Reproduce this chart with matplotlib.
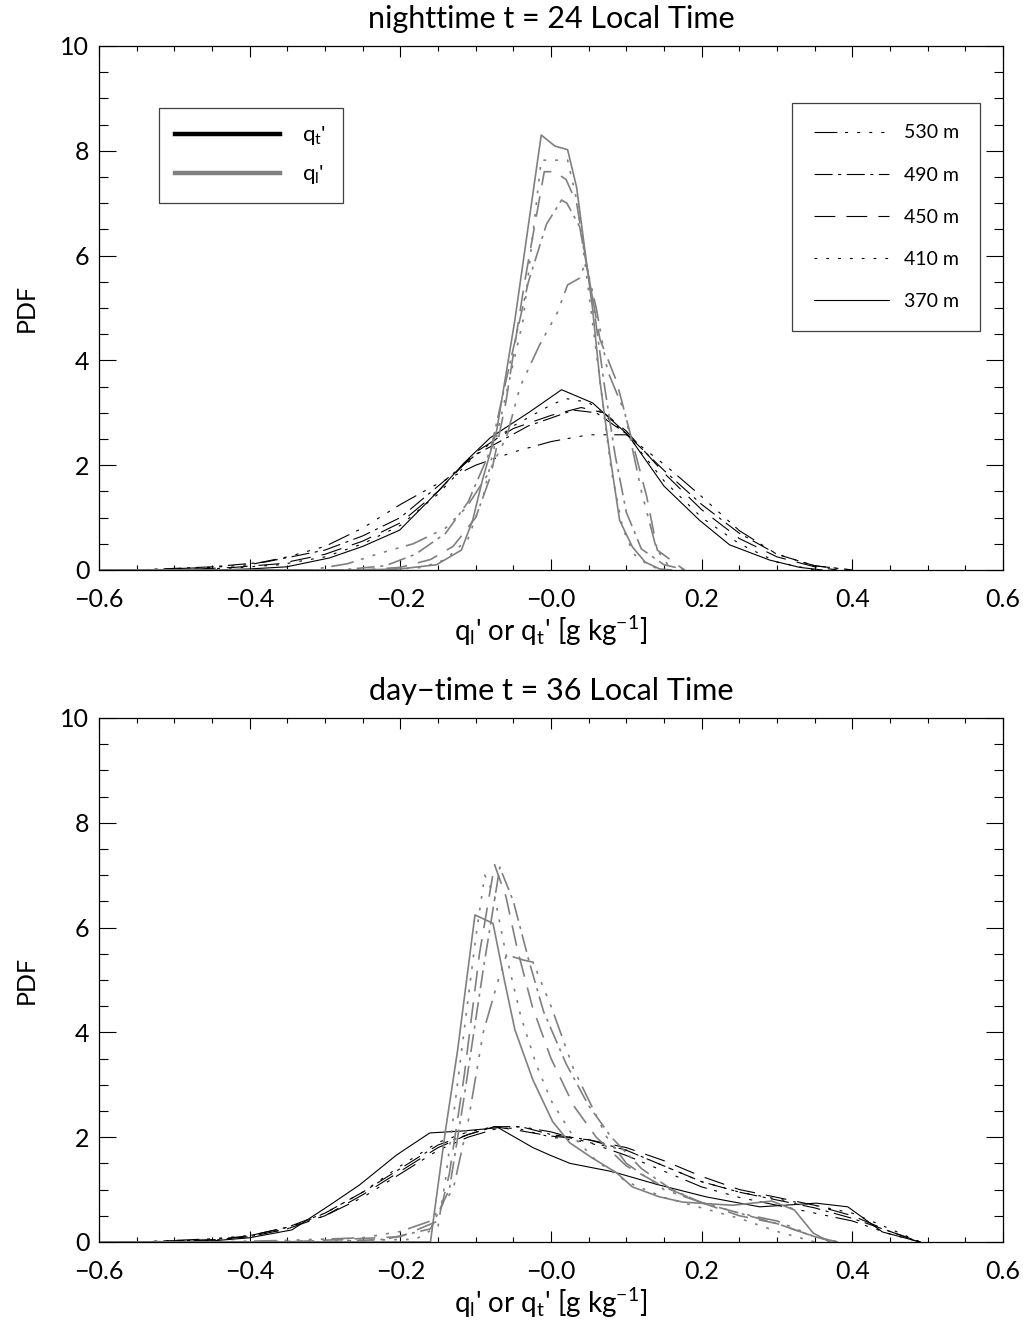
import matplotlib
matplotlib.use("Agg")
import matplotlib.pyplot as plt
from matplotlib.lines import Line2D
from matplotlib.ticker import MultipleLocator, FixedLocator, FixedFormatter

plt.rcParams['lines.scale_dashes'] = False
plt.rcParams['font.family'] = ['Lato', 'DejaVu Sans']
plt.rcParams['mathtext.fontset'] = 'custom'
plt.rcParams['mathtext.rm'] = 'Lato'
plt.rcParams['mathtext.it'] = 'Lato'

# ---------------------------------------------------------------- labels
heights = ['530 m', '490 m', '450 m', '410 m', '370 m']
xtick_vals = [-0.6, -0.4, -0.2, 0.0, 0.2, 0.4, 0.6]
xtick_labels = ['\u22120.6', '\u22120.4', '\u22120.2', '\u22120.0', '0.2', '0.4', '0.6']
ytick_vals = [0, 2, 4, 6, 8, 10]
ytick_labels = ['0', '2', '4', '6', '8', '10']
titles = ['nighttime t = 24 Local Time', 'day\u2212time t = 36 Local Time']

# ---------------------------------------------------------------- nighttime, q_t'
n_qt_370_x = [-0.6, -0.45, -0.4, -0.351, -0.294, -0.25, -0.201, -0.148, -0.115, -0.081, -0.028, 0.014, 0.055, 0.102, 0.15, 0.197, 0.237, 0.29, 0.33, 0.36]
n_qt_370_y = [0, 0, 0.02, 0.06, 0.23, 0.45, 0.76, 1.53, 2.05, 2.52, 3.02, 3.44, 3.19, 2.58, 1.6, 0.95, 0.48, 0.19, 0.05, 0]
n_qt_410_x = [-0.6, -0.5, -0.42, -0.36, -0.3, -0.25, -0.2, -0.15, -0.1, -0.05, 0.0, 0.02, 0.05, 0.1, 0.15, 0.2, 0.25, 0.3, 0.35]
n_qt_410_y = [0, 0, 0.04, 0.1, 0.25, 0.5, 0.85, 1.45, 2.2, 2.75, 3.15, 3.27, 3.2, 2.6, 1.7, 1.0, 0.5, 0.15, 0]
n_qt_450_x = [-0.6, -0.5, -0.42, -0.36, -0.3, -0.25, -0.2, -0.15, -0.1, -0.05, 0.0, 0.04, 0.07, 0.1, 0.15, 0.2, 0.25, 0.3, 0.35, 0.38]
n_qt_450_y = [0, 0, 0.05, 0.12, 0.3, 0.55, 0.9, 1.5, 2.25, 2.7, 2.95, 3.1, 3.0, 2.65, 1.85, 1.15, 0.6, 0.25, 0.06, 0]
n_qt_490_x = [-0.6, -0.55, -0.45, -0.38, -0.3, -0.25, -0.2, -0.15, -0.1, -0.03, 0.03, 0.06, 0.1, 0.15, 0.2, 0.25, 0.3, 0.35, 0.4]
n_qt_490_y = [0, 0, 0.06, 0.15, 0.38, 0.65, 1.0, 1.6, 2.2, 2.75, 3.05, 3.0, 2.6, 1.9, 1.25, 0.7, 0.3, 0.08, 0]
n_qt_530_x = [-0.6, -0.55, -0.45, -0.4, -0.35, -0.3, -0.25, -0.2, -0.15, -0.1, -0.05, 0.0, 0.05, 0.1, 0.154, 0.2, 0.25, 0.3, 0.35, 0.4]
n_qt_530_y = [0, 0, 0.05, 0.1, 0.25, 0.45, 0.8, 1.25, 1.65, 2.0, 2.25, 2.45, 2.58, 2.58, 1.97, 1.4, 0.75, 0.3, 0.08, 0]

# ---------------------------------------------------------------- nighttime, q_l'
n_ql_370_x = [-0.6, -0.25, -0.2, -0.152, -0.119, -0.104, -0.091, -0.072, -0.048, -0.013, 0.005, 0.022, 0.034, 0.055, 0.065, 0.078, 0.091, 0.108, 0.125, 0.144, 0.16]
n_ql_370_y = [0, 0, 0.02, 0.1, 0.38, 0.95, 1.72, 2.67, 4.77, 8.30, 8.09, 8.02, 7.3, 5.0, 3.6, 2.2, 0.95, 0.44, 0.15, 0.02, 0]
n_ql_410_x = [-0.6, -0.22, -0.17, -0.14, -0.11, -0.09, -0.07, -0.037, -0.013, 0.005, 0.022, 0.035, 0.05, 0.065, 0.08, 0.095, 0.11, 0.13, 0.15]
n_ql_410_y = [0, 0, 0.05, 0.2, 0.6, 1.4, 2.7, 4.77, 7.82, 7.82, 7.82, 7.0, 5.3, 3.6, 1.9, 0.8, 0.3, 0.08, 0]
n_ql_450_x = [-0.6, -0.25, -0.2, -0.16, -0.13, -0.1, -0.08, -0.06, -0.035, -0.009, 0.005, 0.02, 0.034, 0.05, 0.065, 0.087, 0.107, 0.127, 0.141, 0.177]
n_ql_450_y = [0, 0, 0.05, 0.2, 0.45, 1.0, 1.8, 3.2, 5.5, 7.6, 7.6, 7.45, 7.0, 5.6, 4.4, 3.6, 2.5, 1.4, 0.38, 0.0]
n_ql_490_x = [-0.6, -0.28, -0.22, -0.18, -0.14, -0.11, -0.08, -0.06, -0.03, -0.006, 0.014, 0.021, 0.038, 0.055, 0.07, 0.085, 0.1, 0.12, 0.15, 0.18]
n_ql_490_y = [0, 0, 0.08, 0.3, 0.7, 1.3, 2.3, 3.6, 5.5, 6.6, 7.06, 7.0, 6.55, 5.2, 3.6, 2.2, 1.1, 0.4, 0.1, 0]
n_ql_530_x = [-0.6, -0.32, -0.27, -0.227, -0.183, -0.14, -0.112, -0.085, -0.059, -0.041, -0.015, 0.008, 0.022, 0.038, 0.046, 0.06, 0.075, 0.098, 0.12, 0.14, 0.16]
n_ql_530_y = [0, 0, 0.12, 0.32, 0.5, 0.8, 1.2, 1.8, 2.54, 3.5, 4.3, 4.9, 5.44, 5.57, 5.88, 5.0, 3.8, 3.0, 1.5, 0.4, 0]

# ---------------------------------------------------------------- day-time, q_t'
d_qt_x = [-0.6, -0.55, -0.45, -0.4, -0.35, -0.3, -0.25, -0.2, -0.15, -0.11, -0.075, -0.04, 0.0, 0.05, 0.1, 0.15, 0.2, 0.25, 0.3, 0.35, 0.4, 0.45, 0.49]
d_qt_410_y = [0, 0, 0.03, 0.1, 0.25, 0.55, 0.95, 1.45, 1.9, 2.1, 2.2, 2.15, 2.0, 1.9, 1.75, 1.45, 1.15, 0.95, 0.82, 0.7, 0.55, 0.25, 0]
d_qt_450_y = [0, 0, 0.04, 0.1, 0.25, 0.5, 0.9, 1.35, 1.8, 2.05, 2.2, 2.12, 2.02, 1.95, 1.8, 1.55, 1.25, 1.0, 0.85, 0.7, 0.5, 0.2, 0]
d_qt_490_y = [0, 0, 0.04, 0.12, 0.28, 0.55, 0.95, 1.4, 1.85, 2.05, 2.2, 2.2, 2.05, 1.95, 1.75, 1.45, 1.15, 0.95, 0.8, 0.65, 0.45, 0.2, 0]
d_qt_530_y = [0, 0, 0.06, 0.12, 0.28, 0.5, 0.85, 1.3, 1.75, 2.0, 2.15, 2.2, 2.1, 1.9, 1.65, 1.35, 1.05, 0.85, 0.7, 0.55, 0.4, 0.15, 0]
d_qt_370_x = [-0.6, -0.55, -0.45, -0.4, -0.344, -0.294, -0.254, -0.205, -0.161, -0.115, -0.07, -0.024, -0.002, 0.025, 0.082, 0.14, 0.206, 0.277, 0.352, 0.394, 0.44, 0.49]
d_qt_370_y = [0, 0, 0.02, 0.08, 0.23, 0.7, 1.09, 1.66, 2.08, 2.12, 2.18, 1.8, 1.66, 1.5, 1.34, 1.1, 0.86, 0.67, 0.74, 0.67, 0.19, 0]

# ---------------------------------------------------------------- day-time, q_l'
d_ql_370_x = [-0.6, -0.16, -0.155, -0.14, -0.124, -0.101, -0.077, -0.062, -0.048, -0.024, 0.002, 0.025, 0.055, 0.087, 0.108, 0.144, 0.175, 0.241, 0.293, 0.323, 0.348, 0.37]
d_ql_370_y = [0, 0, 0.55, 2.14, 3.66, 6.24, 6.08, 5.0, 4.05, 3.09, 2.3, 1.89, 1.6, 1.32, 1.05, 0.86, 0.76, 0.7, 0.78, 0.61, 0.17, 0]
d_ql_410_x = [-0.6, -0.4, -0.18, -0.15, -0.14, -0.12, -0.1, -0.088, -0.075, -0.06, -0.04, -0.02, 0.0, 0.03, 0.06, 0.1, 0.15, 0.2, 0.25, 0.3, 0.35]
d_ql_410_y = [0, 0, 0.05, 0.3, 1.2, 3.5, 5.8, 7.0, 6.6, 5.5, 4.3, 3.4, 2.7, 2.0, 1.55, 1.15, 0.85, 0.65, 0.45, 0.2, 0]
d_ql_450_x = [-0.6, -0.35, -0.2, -0.15, -0.135, -0.115, -0.095, -0.075, -0.06, -0.045, -0.025, 0.0, 0.03, 0.06, 0.1, 0.15, 0.2, 0.25, 0.3, 0.35, 0.38]
d_ql_450_y = [0, 0, 0.1, 0.4, 1.3, 3.2, 5.5, 7.2, 6.6, 5.6, 4.5, 3.5, 2.6, 2.0, 1.45, 1.05, 0.75, 0.5, 0.35, 0.1, 0]
d_ql_490_x = [-0.6, -0.3, -0.22, -0.16, -0.135, -0.115, -0.09, -0.068, -0.05, -0.03, -0.01, 0.02, 0.05, 0.08, 0.12, 0.16, 0.2, 0.25, 0.3, 0.35, 0.38]
d_ql_490_y = [0, 0, 0.05, 0.25, 1.0, 2.8, 5.2, 7.15, 6.5, 5.4, 4.4, 3.4, 2.6, 2.0, 1.4, 1.0, 0.75, 0.55, 0.35, 0.1, 0]
d_ql_530_x = [-0.6, -0.45, -0.35, -0.25, -0.2, -0.16, -0.13, -0.11, -0.09, -0.07, -0.059, -0.037, -0.024, 0.0, 0.03, 0.074, 0.1, 0.15, 0.2, 0.25, 0.3, 0.35, 0.38]
d_ql_530_y = [0, 0, 0.03, 0.08, 0.2, 0.4, 1.0, 2.3, 4.0, 5.0, 5.48, 5.38, 5.34, 4.5, 3.3, 2.0, 1.5, 1.0, 0.75, 0.55, 0.4, 0.1, 0]

# ---------------------------------------------------------------- styles
DASHES = {
    '530 m': (0, (16.5, 5.5, 2.2, 6.5, 2.2, 6.5, 2.2, 6.5, 2.2, 5.5)),
    '490 m': (0, (13.0, 4.0, 2.2, 4.0)),
    '450 m': (0, (15.0, 8.0)),
    '410 m': (0, (2.0, 6.5)),
    '370 m': 'solid',
}
GRAY = '#808080'
LW_QT = 0.8
LW_QL = 1.2

panels = [
    {
        'qt': {'370 m': (n_qt_370_x, n_qt_370_y), '410 m': (n_qt_410_x, n_qt_410_y),
               '450 m': (n_qt_450_x, n_qt_450_y), '490 m': (n_qt_490_x, n_qt_490_y),
               '530 m': (n_qt_530_x, n_qt_530_y)},
        'ql': {'370 m': (n_ql_370_x, n_ql_370_y), '410 m': (n_ql_410_x, n_ql_410_y),
               '450 m': (n_ql_450_x, n_ql_450_y), '490 m': (n_ql_490_x, n_ql_490_y),
               '530 m': (n_ql_530_x, n_ql_530_y)},
    },
    {
        'qt': {'370 m': (d_qt_370_x, d_qt_370_y), '410 m': (d_qt_x, d_qt_410_y),
               '450 m': (d_qt_x, d_qt_450_y), '490 m': (d_qt_x, d_qt_490_y),
               '530 m': (d_qt_x, d_qt_530_y)},
        'ql': {'370 m': (d_ql_370_x, d_ql_370_y), '410 m': (d_ql_410_x, d_ql_410_y),
               '450 m': (d_ql_450_x, d_ql_450_y), '490 m': (d_ql_490_x, d_ql_490_y),
               '530 m': (d_ql_530_x, d_ql_530_y)},
    },
]

FS_TICK = 18
FS_TITLE = 22
FS_LABEL = 20
fig = plt.figure(figsize=(10.35, 13.28), dpi=100)
axes = [fig.add_axes([0.0957, 0.5708, 0.8734, 0.3946]),
        fig.add_axes([0.0957, 0.0648, 0.8734, 0.3946])]

for ax, panel, title in zip(axes, panels, titles):
    for h in heights[::-1]:
        x, y = panel['qt'][h]
        ax.plot(x, y, color='black', lw=LW_QT, linestyle=DASHES[h])
    for h in heights[::-1]:
        x, y = panel['ql'][h]
        ax.plot(x, y, color=GRAY, lw=LW_QL, linestyle=DASHES[h])

    ax.set_xlim(-0.6, 0.6)
    ax.set_ylim(0, 10)
    ax.xaxis.set_major_locator(FixedLocator(xtick_vals))
    ax.xaxis.set_major_formatter(FixedFormatter(xtick_labels))
    ax.xaxis.set_minor_locator(MultipleLocator(0.05))
    ax.yaxis.set_major_locator(FixedLocator(ytick_vals))
    ax.yaxis.set_major_formatter(FixedFormatter(ytick_labels))
    ax.yaxis.set_minor_locator(MultipleLocator(0.5))
    ax.tick_params(which='both', direction='in', top=True, right=True,
                   labelsize=FS_TICK, width=0.8)
    ax.tick_params(axis='x', which='both', pad=13)
    ax.tick_params(axis='y', which='both', pad=7)
    ax.tick_params(axis='x', which='major', length=8)
    ax.tick_params(axis='x', which='minor', length=3.6)
    ax.tick_params(axis='y', which='major', length=12.5)
    ax.tick_params(axis='y', which='minor', length=6.5)
    for sp in ax.spines.values():
        sp.set_linewidth(0.9)

    ax.set_title(title, fontsize=FS_TITLE, pad=13)
    ax.set_ylabel('PDF', fontsize=FS_TICK, labelpad=16)
    ax.set_xlabel(r"q$_{\rm l}$' or q$_{\rm t}$' [g kg$^{-1}$]", fontsize=FS_LABEL, labelpad=2)

# legends in the nighttime panel
ax0 = axes[0]
var_handles = [Line2D([], [], color='black', lw=3.2), Line2D([], [], color=GRAY, lw=3.2)]
leg1 = ax0.legend(var_handles, [r"q$_{\rm t}$'", r"q$_{\rm l}$'"],
                  loc='upper left', bbox_to_anchor=(0.066, 0.882), borderaxespad=0,
                  fontsize=16, handlelength=4.7, handletextpad=1.0,
                  labelspacing=0.72, borderpad=0.75, fancybox=False,
                  edgecolor='#404040', framealpha=1)
leg1.get_frame().set_linewidth(0.9)
ax0.add_artist(leg1)

h_handles = [Line2D([], [], color='black', lw=0.8, linestyle=DASHES[h]) for h in heights]
leg2 = ax0.legend(h_handles, heights, loc='upper left', bbox_to_anchor=(0.767, 0.891),
                  borderaxespad=0,
                  fontsize=14, handlelength=3.86, handletextpad=0.77,
                  labelspacing=1.29, borderpad=1.1, fancybox=False,
                  edgecolor='#404040', framealpha=1)
leg2.get_frame().set_linewidth(0.9)

fig.savefig('out.png', dpi=100)
